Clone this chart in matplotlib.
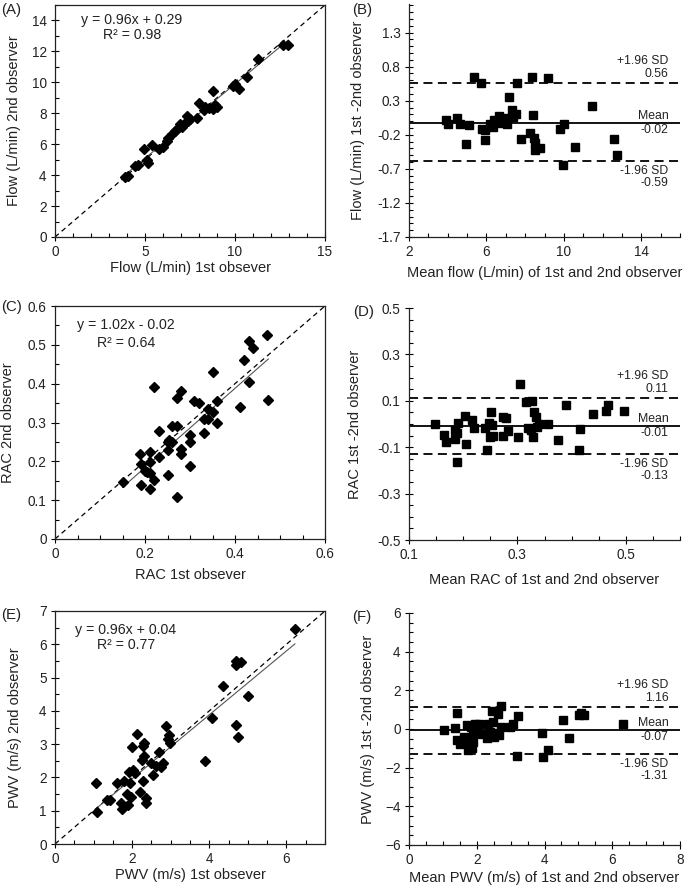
import numpy as np
import matplotlib
matplotlib.use("Agg")
import matplotlib.pyplot as plt
from matplotlib.ticker import MultipleLocator
import matplotlib.transforms as mtransforms

plt.rcParams["font.family"] = ["Liberation Sans", "DejaVu Sans"]

# ---------------- data ----------------
# (A) flow, 1st vs 2nd observer
flow_obs1 = [3.89, 4.07, 4.44, 4.63, 4.94, 5.10, 5.15, 5.37, 5.80, 6.02, 6.20, 6.30,
             6.48, 6.67, 6.76, 6.94, 7.04, 7.22, 7.31, 7.40, 7.50, 7.87, 8.00, 8.28,
             8.33, 8.57, 8.80, 8.80, 8.89, 8.98, 9.87, 10.00, 10.24, 10.69, 11.30,
             12.69, 12.96]
flow_obs2 = [3.90, 3.97, 4.59, 4.65, 5.72, 4.97, 4.78, 5.96, 5.72, 5.79, 6.22, 6.43,
             6.65, 6.86, 6.97, 7.29, 7.08, 7.40, 7.83, 7.50, 7.60, 7.68, 8.68, 8.19,
             8.40, 8.36, 8.25, 9.43, 8.53, 8.40, 9.76, 9.90, 9.54, 10.33, 11.53,
             12.44, 12.44]
flow_fit = (0.96, 0.29)

# (B) flow Bland-Altman
flow_mean = [3.91, 4.03, 4.49, 4.66, 5.11, 4.97, 5.35, 5.70, 5.75, 5.95, 5.92, 6.18,
             6.32, 6.38, 6.66, 6.78, 6.95, 7.04, 7.18, 7.30, 7.38, 7.52, 7.60, 7.78,
             8.24, 8.38, 8.41, 8.45, 8.50, 8.50, 8.76, 9.19, 9.79, 9.93, 10.02, 10.57,
             11.46, 12.58, 12.72]
flow_diff = [0.02, -0.04, 0.05, -0.04, -0.06, -0.33, 0.65, 0.56, -0.11, -0.13, -0.27,
             -0.04, -0.08, 0.02, 0.07, -0.03, 0.04, -0.04, 0.36, 0.16, 0.06, 0.10, 0.56,
             -0.26, -0.18, 0.65, 0.09, -0.24, -0.32, -0.42, -0.39, 0.63, -0.11, -0.65,
             -0.04, -0.38, 0.22, -0.26, -0.49]
flow_limits = (0.56, -0.02, -0.59)

# (C) RAC, 1st vs 2nd observer
rac_obs1 = [0.150, 0.189, 0.191, 0.191, 0.199, 0.204, 0.210, 0.211, 0.211, 0.211, 0.220,
            0.220, 0.230, 0.230, 0.250, 0.250, 0.250, 0.254, 0.259, 0.261, 0.270, 0.270,
            0.270, 0.280, 0.280, 0.280, 0.300, 0.300, 0.300, 0.309, 0.321, 0.330, 0.330,
            0.339, 0.341, 0.350, 0.350, 0.359, 0.359, 0.410, 0.420, 0.430, 0.430, 0.439,
            0.470, 0.474]
rac_obs2 = [0.146, 0.219, 0.193, 0.140, 0.176, 0.172, 0.198, 0.225, 0.170, 0.130, 0.151,
            0.391, 0.210, 0.277, 0.251, 0.230, 0.164, 0.255, 0.251, 0.290, 0.290, 0.362,
            0.107, 0.231, 0.219, 0.380, 0.267, 0.250, 0.187, 0.356, 0.351, 0.309, 0.273,
            0.335, 0.309, 0.328, 0.431, 0.356, 0.298, 0.340, 0.460, 0.405, 0.510, 0.491,
            0.525, 0.358]
rac_fit = (1.02, -0.02)

# (D) RAC Bland-Altman
rac_mean = [0.148, 0.164, 0.169, 0.184, 0.185, 0.188, 0.191, 0.188, 0.203, 0.206, 0.217,
            0.220, 0.240, 0.243, 0.248, 0.249, 0.252, 0.254, 0.255, 0.273, 0.273, 0.279,
            0.282, 0.301, 0.304, 0.315, 0.320, 0.326, 0.327, 0.328, 0.331, 0.334, 0.337,
            0.339, 0.356, 0.374, 0.389, 0.416, 0.414, 0.439, 0.463, 0.468, 0.496]
rac_diff = [0.001, -0.048, -0.077, -0.065, -0.025, -0.040, 0.004, -0.163, 0.035, -0.086,
            0.018, -0.018, -0.018, -0.112, 0.006, -0.054, 0.050, -0.004, -0.050, 0.032,
            -0.050, 0.024, -0.032, -0.054, 0.173, 0.093, -0.018, -0.028, 0.101, -0.057,
            0.050, 0.032, -0.015, 0.001, 0.001, -0.068, 0.083, -0.021, -0.112, 0.044,
            0.054, 0.083, 0.058]
rac_limits = (0.11, -0.01, -0.13)

# (E) PWV, 1st vs 2nd observer
pwv_obs1 = [1.06, 1.10, 1.36, 1.42, 1.60, 1.70, 1.73, 1.79, 1.86, 1.90, 1.93, 1.94, 1.96,
            1.99, 2.01, 2.07, 2.12, 2.20, 2.25, 2.27, 2.29, 2.31, 2.32, 2.35, 2.37, 2.48,
            2.55, 2.62, 2.74, 2.70, 2.81, 2.89, 2.94, 2.96, 2.98, 3.90, 4.06, 4.35, 4.69,
            4.70, 4.83, 4.69, 4.74, 5.01, 6.22]
pwv_obs2 = [1.84, 0.97, 1.32, 1.32, 1.82, 1.24, 1.05, 1.90, 1.50, 1.17, 2.17, 1.82, 1.40,
            2.92, 2.22, 2.14, 3.30, 1.57, 2.52, 1.90, 2.94, 3.04, 2.65, 1.37, 1.22, 2.44,
            2.07, 2.35, 2.30, 2.77, 2.44, 3.54, 3.15, 3.27, 3.02, 2.49, 3.80, 4.76, 5.50,
            5.37, 5.47, 3.57, 3.22, 4.45, 6.45]
pwv_fit = (0.96, 0.04)

# (F) PWV Bland-Altman
pwv_mean = [1.03, 1.36, 1.43, 1.41, 1.51, 1.62, 1.65, 1.70, 1.75, 1.85, 1.88, 1.82, 1.90,
            1.95, 2.02, 2.08, 2.15, 2.29, 2.34, 2.39, 2.44, 2.47, 2.51, 2.59, 2.64, 2.67,
            2.72, 2.72, 2.98, 3.06, 3.18, 3.21, 3.92, 3.96, 4.11, 4.54, 4.71, 5.02, 5.07,
            5.16, 6.33]
pwv_diff = [-0.06, 0.03, 0.83, -0.58, -0.75, -0.40, -0.66, 0.20, -1.09, -1.00, -0.66,
            0.11, -0.27, 0.28, -0.03, 0.28, -0.27, -0.49, 0.28, -0.15, 0.94, 0.37, -0.40,
            -0.23, 0.77, -0.32, 1.20, 0.11, 0.11, 0.28, -1.39, 0.66, -0.23, -1.47, -1.09,
            0.49, -0.49, 0.72, 0.84, 0.72, 0.25]
pwv_limits = (1.16, -0.07, -1.31)

W, H = 685, 885
fig = plt.figure(figsize=(W / 100, H / 100), dpi=100)
TXT = "#222222"
TICK_FS = 9.8
LAB_FS = 10.5
ANN_FS = 8.8


def px_axes(left, top, right, bottom):
    return fig.add_axes([left / W, (H - bottom) / H, (right - left) / W, (bottom - top) / H])


def style(ax, xmaj, xmin, ymaj, ymin, box):
    ax.xaxis.set_major_locator(MultipleLocator(xmaj))
    ax.xaxis.set_minor_locator(MultipleLocator(xmin))
    ax.yaxis.set_major_locator(MultipleLocator(ymaj))
    ax.yaxis.set_minor_locator(MultipleLocator(ymin))
    ax.tick_params(which="major", direction="inout", length=6, width=0.8,
                   labelsize=TICK_FS, labelcolor=TXT, pad=3)
    ax.tick_params(which="minor", direction="in", length=3, width=0.8)
    for s in ax.spines.values():
        s.set_linewidth(0.9)
        s.set_color("#222222")
    if not box:
        ax.spines["top"].set_visible(False)
        ax.spines["right"].set_visible(False)


def set_labels(ax, xl, yl, xpos, ypos):
    ax.set_xlabel(xl, fontsize=LAB_FS, color=TXT)
    ax.set_ylabel(yl, fontsize=LAB_FS, color=TXT)
    ax.xaxis.set_label_coords(0.5, xpos)
    ax.yaxis.set_label_coords(ypos, 0.5)
    ax.xaxis.label.set_va("center")
    ax.yaxis.label.set_va("center")


def scatter_panel(ax, x, y, fit, lim, eq, r2, eqpos):
    ax.plot([0, lim], [0, lim], color="black", lw=0.9, ls=(0, (4, 3)), zorder=1)
    xf = np.array([min(x), max(x)])
    ax.plot(xf, fit[0] * xf + fit[1], color="#555555", lw=0.8, zorder=2)
    ax.plot(x, y, ls="none", marker="D", ms=5.4, color="black", zorder=3)
    ax.set_xlim(0, lim)
    ax.set_ylim(0, lim)
    ax.text(eqpos[0], eqpos[1], eq, transform=ax.transAxes, ha="center", va="center",
            fontsize=10.2, color=TXT)
    ax.text(eqpos[0], eqpos[2], r2, transform=ax.transAxes, ha="center", va="center",
            fontsize=10.2, color=TXT)


def ba_panel(ax, m, d, limits, fmt):
    up, mean, lo = limits
    ax.axhline(up, color="black", lw=1.3, ls=(0, (5, 3)), zorder=1)
    ax.axhline(lo, color="black", lw=1.3, ls=(0, (5, 3)), zorder=1)
    ax.axhline(mean, color="black", lw=1.3, zorder=1)
    ax.plot(m, d, ls="none", marker="s", ms=5.8, color="black", zorder=3)
    tr = mtransforms.blended_transform_factory(ax.transAxes, ax.transData)
    items = [("+1.96 SD", up, 22), (fmt % up, up, 9),
             ("Mean", mean, 7), (fmt % mean, mean, -7),
             ("-1.96 SD", lo, -10), (fmt % lo, lo, -22)]
    for s, yv, off in items:
        ax.annotate(s, xy=(0.957, yv), xycoords=tr, xytext=(0, off),
                    textcoords="offset pixels", ha="right", va="center",
                    fontsize=ANN_FS, color=TXT)


# (A)
axA = px_axes(55, 5, 325, 237)
scatter_panel(axA, flow_obs1, flow_obs2, flow_fit, 15, "y = 0.96x + 0.29", "R\u00b2 = 0.98",
              (0.285, 0.935, 0.87))
style(axA, 5, 1, 2, 1, True)
set_labels(axA, "Flow (L/min) 1st obsever", "Flow (L/min) 2nd observer", -0.134, -0.152)

# (B)
axB = px_axes(409, 4, 680, 237)
ba_panel(axB, flow_mean, flow_diff, flow_limits, "%.2f")
axB.set_xlim(2, 16)
axB.set_ylim(-1.7, 1.72)
style(axB, 4, 1, 0.5, 0.1, False)
axB.set_xticks([2, 6, 10, 14])
axB.set_yticks(np.arange(-1.7, 1.4, 0.5))
axB.set_yticklabels(["%.1f" % v for v in np.arange(-1.7, 1.4, 0.5)])
set_labels(axB, "Mean flow (L/min) of 1st and 2nd observer", "Flow (L/min) 1st -2nd observer",
           -0.155, -0.188)

# (C)
axC = px_axes(55, 306, 325, 539)
scatter_panel(axC, rac_obs1, rac_obs2, rac_fit, 0.6, "y = 1.02x - 0.02", "R\u00b2 = 0.64",
              (0.263, 0.918, 0.841))
style(axC, 0.2, 0.05, 0.1, 0.05, True)
axC.set_xticks([0, 0.2, 0.4, 0.6])
axC.set_xticklabels(["0", "0.2", "0.4", "0.6"])
axC.set_yticks(np.arange(0, 0.61, 0.1))
axC.set_yticklabels(["0", "0.1", "0.2", "0.3", "0.4", "0.5", "0.6"])
set_labels(axC, "RAC 1st obsever", "RAC 2nd observer", -0.155, -0.174)

# (D)
axD = px_axes(409, 308, 680, 540)
ba_panel(axD, rac_mean, rac_diff, rac_limits, "%.2f")
axD.set_xlim(0.1, 0.6)
axD.set_ylim(-0.5, 0.5)
style(axD, 0.2, 0.05, 0.2, 0.05, False)
axD.set_xticks([0.1, 0.3, 0.5])
axD.set_xticklabels(["0.1", "0.3", "0.5"])
axD.set_yticks([-0.5, -0.3, -0.1, 0.1, 0.3, 0.5])
axD.set_yticklabels(["-0.5", "-0.3", "-0.1", "0.1", "0.3", "0.5"])
set_labels(axD, "Mean RAC of 1st and 2nd observer", "RAC 1st -2nd observer", -0.172, -0.2)

# (E)
axE = px_axes(55, 611, 325, 844)
scatter_panel(axE, pwv_obs1, pwv_obs2, pwv_fit, 7, "y = 0.96x + 0.04", "R\u00b2 = 0.77",
              (0.263, 0.918, 0.854))
style(axE, 2, 0.5, 1, 0.5, True)
set_labels(axE, "PWV (m/s) 1st obsever", "PWV (m/s) 2nd observer", -0.133, -0.148)

# (F)
axF = px_axes(409, 613, 680, 845)
ba_panel(axF, pwv_mean, pwv_diff, pwv_limits, "%.2f")
axF.set_xlim(0, 8)
axF.set_ylim(-6, 6)
style(axF, 2, 0.5, 2, 0.5, False)
set_labels(axF, "Mean PWV (m/s) of 1st and 2nd observer", "PWV (m/s) 1st -2nd observer",
           -0.142, -0.151)

# panel letters
for lab, xp, yp in [("(A)", 1, 10), ("(B)", 352, 10), ("(C)", 1, 307),
                    ("(D)", 353, 312), ("(E)", 1, 615), ("(F)", 352, 617)]:
    fig.text(xp / W, 1 - yp / H, lab, ha="left", va="center", fontsize=10.8, color=TXT)

fig.savefig("out.png", dpi=100)
